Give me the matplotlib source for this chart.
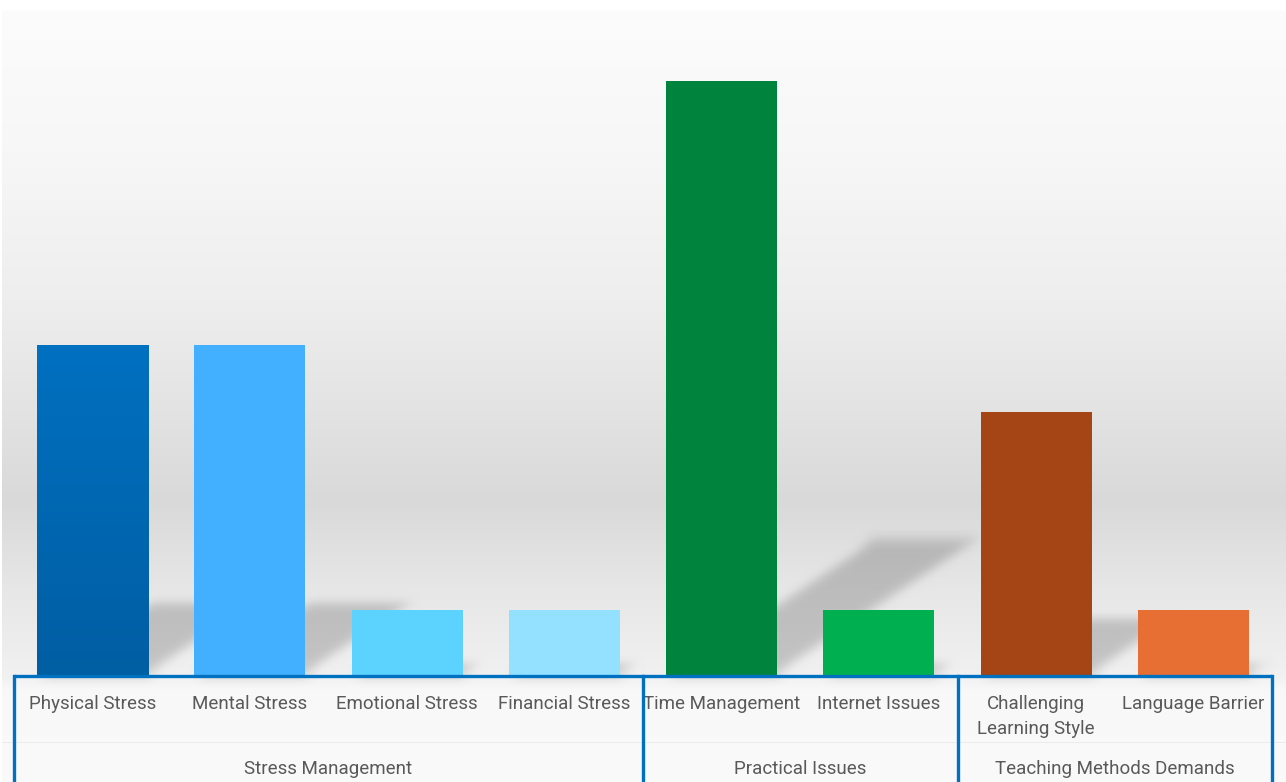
import numpy as np
import matplotlib
matplotlib.use("Agg")
import matplotlib.pyplot as plt
from matplotlib.collections import PolyCollection
from matplotlib.colors import LinearSegmentedColormap
from matplotlib.transforms import blended_transform_factory

categories = ["Physical Stress", "Mental Stress", "Emotional Stress", "Financial Stress",
              "Time Management", "Internet Issues", "Challenging\nLearning Style", "Language Barrier"]
values = [5, 5, 1, 1, 9, 1, 4, 1]
colors = ["#0070c0", "#43b0ff", "#5cd3ff", "#93e1ff",
          "#00843d", "#00b050", "#a54414", "#e86f33"]
groups = ["Stress Management", "Practical Issues", "Teaching Methods Demands"]
group_sizes = [4, 2, 2]

W, H = 1286, 782
plt.rcParams["font.family"] = ["Roboto", "DejaVu Sans"]
fig = plt.figure(figsize=(W / 100, H / 100), dpi=100)
fig.patch.set_facecolor("white")

# soft grey backdrop, darkest a little above the baseline (rows listed top to bottom)
stops_y = [10, 150, 300, 420, 500, 590, 676, 690, 782]
stops_v = [252, 247, 238, 226, 217, 231, 241, 248, 250]
rows = np.interp(np.arange(10, H), stops_y, stops_v) / 255.0
back = np.repeat(rows[:, None], W - 2, axis=1)
back = np.dstack([back, back, back])
back[742 - 10] = 0.925  # faint divider under the tick labels
fig.figimage(back, xo=2, yo=0, zorder=-5, origin="upper")

ax = fig.add_axes([14 / W, 106 / H, 1258 / W, 661 / H])
ax.set_facecolor("none")
x = np.arange(len(values))
bw = 0.707


def soft_blur(im, dpi):
    sigma = 4.5 * dpi / 100
    pad = int(3 * sigma) + 1
    im = np.pad(im, [(pad, pad), (pad, pad), (0, 0)])
    k = np.arange(-pad, pad + 1)
    w = np.exp(-0.5 * (k / sigma) ** 2)
    w /= w.sum()
    tmp = np.zeros_like(im)
    for s, ws in zip(k, w):
        tmp += ws * np.roll(im, s, axis=0)
    out = np.zeros_like(im)
    for s, ws in zip(k, w):
        out += ws * np.roll(tmp, s, axis=1)
    return out, -pad, -pad


# slanted drop shadows cast up and to the right of each bar
px_x = 1258 / len(values)
px_y = 661 / 10
polys = []
for xi, v in zip(x, values):
    hs = 0.23 * v
    dx = 1.5 * hs * px_y / px_x
    x0, x1 = xi - bw / 2, xi + bw / 2
    polys.append([(x0, 0), (x1, 0), (x1 + dx, hs), (x0 + dx, hs)])
shadow = PolyCollection(polys, facecolors="black", edgecolors="none", alpha=0.19, zorder=1)
shadow.set_agg_filter(soft_blur)
ax.add_collection(shadow)

bars = ax.bar(x, values, width=bw, color=colors, zorder=3)

# first bar darkens slightly toward the baseline
b0 = bars[0]
shade = np.linspace(0, 1, 64)[:, None]
img = ax.imshow(shade, cmap=LinearSegmentedColormap.from_list("b", ["#005ea3", "#0070c0"]),
                aspect="auto", origin="lower", zorder=4,
                extent=[b0.get_x(), b0.get_x() + b0.get_width(), 0, values[0]])
img.set_clip_path(b0)
ax.set_xlim(-0.5, len(values) - 0.5)
ax.set_ylim(0, 10)

for s in ax.spines.values():
    s.set_visible(False)
ax.set_yticks([])
ax.set_xticks(x)
ax.set_xticklabels(categories, fontsize=13.5, color="#595959", linespacing=1.45)
ax.tick_params(axis="x", length=0, pad=14)

# category frame below the axis
blue = "#0070c0"
trans = blended_transform_factory(ax.transData, ax.transAxes)
ax.plot([-0.5, len(values) - 0.5], [0, 0], color=blue, lw=2.4, transform=trans,
        clip_on=False, zorder=5, solid_capstyle="butt")
edges = np.concatenate([[0], np.cumsum(group_sizes)]) - 0.5
for e in edges:
    ax.plot([e, e], [0, -0.2], color=blue, lw=2.4, transform=trans, clip_on=False, zorder=5)
for g, a, b in zip(groups, edges[:-1], edges[1:]):
    ax.annotate(g, xy=((a + b) / 2, 0), xycoords=trans, xytext=(0, -67),
                textcoords="offset points", ha="center", va="center",
                fontsize=13.5, color="#595959")

fig.savefig("out.png", dpi=100)
